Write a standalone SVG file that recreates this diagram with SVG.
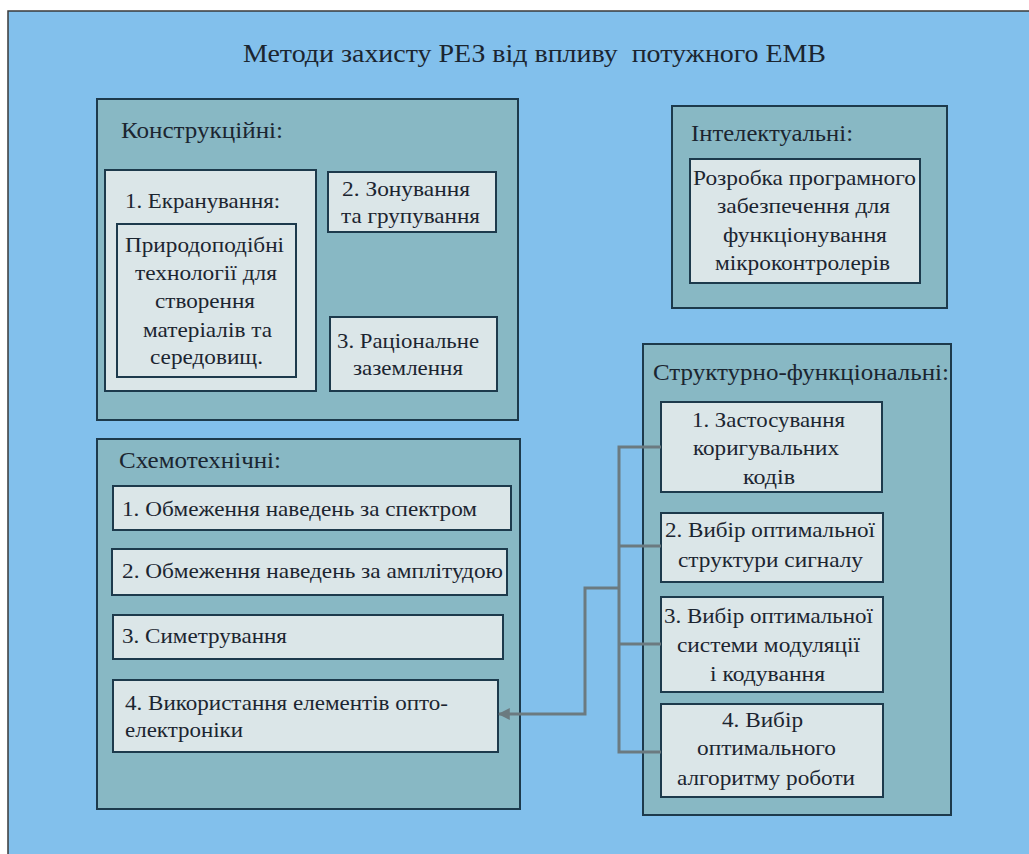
<svg xmlns="http://www.w3.org/2000/svg" width="1029" height="854" viewBox="0 0 1029 854">
<defs>
<style>
.h{font-size:24px}
.b{font-size:22px}
.panel{fill:#88b8c4;stroke:#1d3a4c;stroke-width:2}
.box{fill:#dbe6e8;stroke:#1d3a4c;stroke-width:2}
.con{fill:none;stroke:#6b7a80;stroke-width:3}
</style>
<marker id="arr" viewBox="0 0 10 10" refX="9" refY="5" markerWidth="4" markerHeight="4" orient="auto-start-reverse">
<path d="M0,0 L10,5 L0,10 z" fill="#6b7a80"/>
</marker>
</defs>
<rect width="1029" height="854" fill="#ffffff"/>
<rect id="frame" x="8" y="11" width="1030" height="850" fill="#82c0ec" stroke="#3a3a3a" stroke-width="1.5"/>
<g font-family="Liberation Serif, Times New Roman, DejaVu Serif, serif" fill="#1b2530">
<text id="title" x="243" y="62" font-size="25" textLength="583" lengthAdjust="spacingAndGlyphs" xml:space="preserve">Методи захисту РЕЗ від впливу  потужного ЕМВ</text>

<g id="konstr">
<rect class="panel" x="97" y="99" width="421" height="321"/>
<text class="h" x="121" y="138" textLength="162" lengthAdjust="spacingAndGlyphs">Конструкційні:</text>
</g>
<g id="ekran">
<rect class="box" x="105" y="170" width="211" height="221"/>
<text class="b" x="125" y="208" textLength="155" lengthAdjust="spacingAndGlyphs">1. Екранування:</text>
</g>
<g id="pryrodo">
<rect class="box" x="117" y="224" width="179" height="153"/>
<text class="b" x="125" y="252" textLength="159" lengthAdjust="spacingAndGlyphs">Природоподібні</text>
<text class="b" x="135" y="280" textLength="142" lengthAdjust="spacingAndGlyphs">технології для</text>
<text class="b" x="155" y="308" textLength="100" lengthAdjust="spacingAndGlyphs">створення</text>
<text class="b" x="143" y="337" textLength="129" lengthAdjust="spacingAndGlyphs">матеріалів та</text>
<text class="b" x="150" y="364" textLength="113" lengthAdjust="spacingAndGlyphs">середовищ.</text>
</g>
<g id="zonuv">
<rect class="box" x="328" y="172" width="168" height="60"/>
<text class="b" x="342" y="196" textLength="128" lengthAdjust="spacingAndGlyphs">2. Зонування</text>
<text class="b" x="341" y="223" textLength="139" lengthAdjust="spacingAndGlyphs">та групування</text>
</g>
<g id="zazeml">
<rect class="box" x="330" y="317" width="167" height="74"/>
<text class="b" x="337" y="348" textLength="142" lengthAdjust="spacingAndGlyphs">3. Раціональне</text>
<text class="b" x="353" y="375" textLength="110" lengthAdjust="spacingAndGlyphs">заземлення</text>
</g>

<g id="intel">
<rect class="panel" x="672" y="106" width="275" height="202"/>
<text class="h" x="691" y="141" textLength="162" lengthAdjust="spacingAndGlyphs">Інтелектуальні:</text>
</g>
<g id="prog">
<rect class="box" x="690" y="159" width="230" height="124"/>
<text class="b" x="693" y="185" textLength="223" lengthAdjust="spacingAndGlyphs">Розробка програмного</text>
<text class="b" x="717" y="213" textLength="173" lengthAdjust="spacingAndGlyphs">забезпечення для</text>
<text class="b" x="723" y="242" textLength="164" lengthAdjust="spacingAndGlyphs">функціонування</text>
<text class="b" x="715" y="270" textLength="175" lengthAdjust="spacingAndGlyphs">мікроконтролерів</text>
</g>

<g id="skhemo">
<rect class="panel" x="97" y="439" width="423" height="370"/>
<text class="h" x="119" y="468" textLength="162" lengthAdjust="spacingAndGlyphs">Схемотехнічні:</text>
</g>
<g id="s1">
<rect class="box" x="113" y="486" width="398" height="44"/>
<text class="b" x="122" y="516" textLength="355" lengthAdjust="spacingAndGlyphs">1. Обмеження наведень за спектром</text>
</g>
<g id="s2">
<rect class="box" x="112" y="549" width="395" height="46"/>
<text class="b" x="122" y="578" textLength="381" lengthAdjust="spacingAndGlyphs">2. Обмеження наведень за амплітудою</text>
</g>
<g id="s3">
<rect class="box" x="113" y="615" width="390" height="44"/>
<text class="b" x="122" y="643" textLength="165" lengthAdjust="spacingAndGlyphs">3. Симетрування</text>
</g>
<g id="s4">
<rect class="box" x="113" y="680" width="385" height="72"/>
<text class="b" x="125" y="710" textLength="323" lengthAdjust="spacingAndGlyphs">4. Використання елементів опто-</text>
<text class="b" x="125" y="737" textLength="118" lengthAdjust="spacingAndGlyphs">електроніки</text>
</g>

<g id="struct">
<rect class="panel" x="643" y="344" width="308" height="471"/>
<text class="h" x="653" y="380" textLength="296" lengthAdjust="spacingAndGlyphs">Структурно-функціональні:</text>
</g>
<g id="f1">
<rect class="box" x="661" y="402" width="221" height="90"/>
<text class="b" x="692" y="427" textLength="153" lengthAdjust="spacingAndGlyphs">1. Застосування</text>
<text class="b" x="693" y="455" textLength="146" lengthAdjust="spacingAndGlyphs">коригувальних</text>
<text class="b" x="743" y="484" textLength="52" lengthAdjust="spacingAndGlyphs">кодів</text>
</g>
<g id="f2">
<rect class="box" x="661" y="513" width="222" height="69"/>
<text class="b" x="665" y="537" textLength="210" lengthAdjust="spacingAndGlyphs">2. Вибір оптимальної</text>
<text class="b" x="678" y="567" textLength="185" lengthAdjust="spacingAndGlyphs">структури сигналу</text>
</g>
<g id="f3">
<rect class="box" x="661" y="597" width="222" height="95"/>
<text class="b" x="664" y="623" textLength="209" lengthAdjust="spacingAndGlyphs">3. Вибір оптимальної</text>
<text class="b" x="677" y="652" textLength="183" lengthAdjust="spacingAndGlyphs">системи модуляції</text>
<text class="b" x="710" y="681" textLength="115" lengthAdjust="spacingAndGlyphs">і кодування</text>
</g>
<g id="f4">
<rect class="box" x="661" y="704" width="222" height="93"/>
<text class="b" x="722" y="727" textLength="81" lengthAdjust="spacingAndGlyphs">4. Вибір</text>
<text class="b" x="697" y="755" textLength="139" lengthAdjust="spacingAndGlyphs">оптимального</text>
<text class="b" x="677" y="785" textLength="178" lengthAdjust="spacingAndGlyphs">алгоритму роботи</text>
</g>
</g>

<g id="connectors">
<path class="con" d="M661,447 H619 V752 H661"/>
<path class="con" d="M619,546 H661"/>
<path class="con" d="M619,644 H661"/>
<path class="con" d="M619,588 H585 V714 H499" marker-end="url(#arr)"/>
</g>
</svg>
